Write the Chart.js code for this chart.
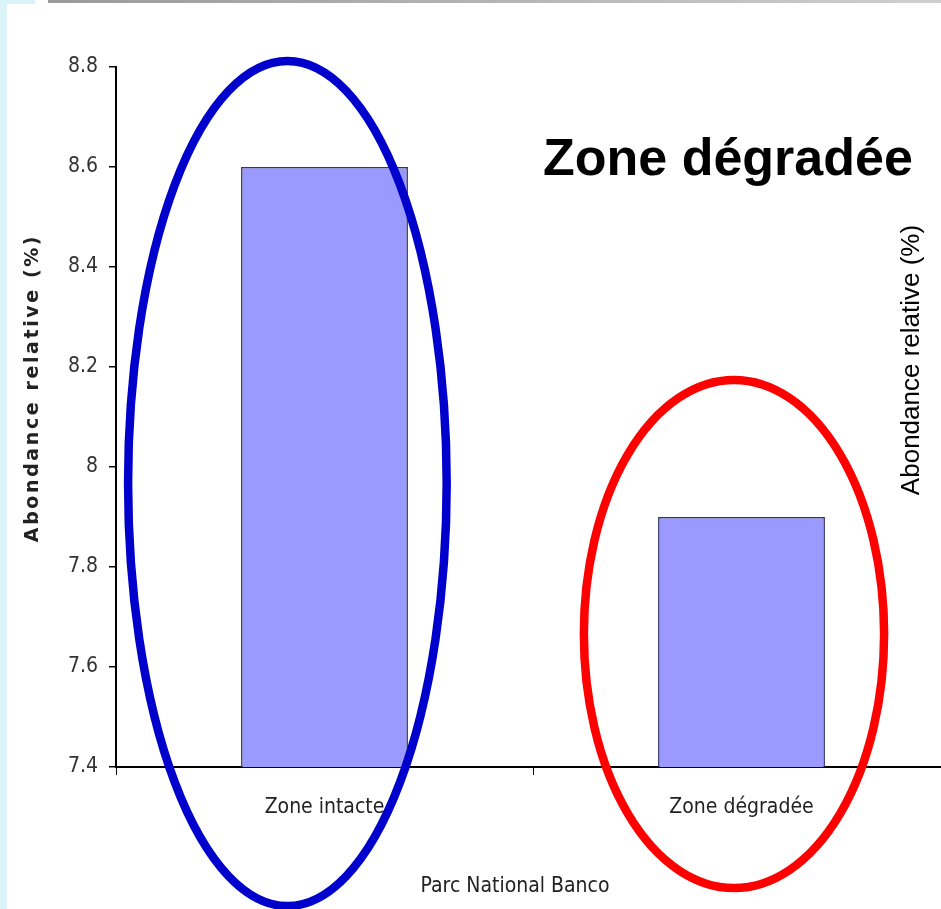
<!DOCTYPE html>
<html><head><meta charset="utf-8">
<script src="https://cdn.jsdelivr.net/npm/chart.js@4"></script>
<style>
html,body{margin:0;padding:0;background:#fff;overflow:hidden;width:941px;height:909px}
#wrap{position:absolute;left:0;top:0;width:960px;height:909px}
#strip{position:absolute;left:0;top:0;width:7px;height:909px;background:#d9f3f8}
#tl{position:absolute;left:0;top:0;width:35px;height:4px;background:#d9f3f8}
#topbar{position:absolute;left:48px;top:0;width:893px;height:3px;background:linear-gradient(to right,#9a9a9a,#cfcfcf)}
</style></head><body>
<div id="wrap"><canvas id="c" width="960" height="909"></canvas></div>
<div id="strip"></div><div id="tl"></div><div id="topbar"></div>
<script>
const categories = ['Zone intacte', 'Zone dégradée'];
const abundance = [8.6, 7.9];
const yTicks = [7.4, 7.6, 7.8, 8, 8.2, 8.4, 8.6, 8.8];
const yTitle = 'Abondance relative (%)';
const xTitle = 'Parc National Banco';
const bigTitle = 'Zone dégradée';
const rightLabel = 'Abondance relative (%)';
// highlight ellipses, in data units (category index / value)
const ellipseCenterCat = [-0.089, 0.982];
const ellipseCenterVal = [7.967, 7.666];
const ellipseHalfCat = [0.382, 0.36];
const ellipseHalfVal = [0.845, 0.508];
const ellipseColors = ['#0000cc', '#ff0000'];

const NARROW = '"Liberation Sans Narrow", "Arial Narrow", "DejaVu Sans Condensed", sans-serif';

const overlay = {
  id: 'overlay',
  afterDraw(chart) {
    const ctx = chart.ctx, xs = chart.scales.x, ys = chart.scales.y, ca = chart.chartArea;
    const p0 = xs.getPixelForValue(0), step = xs.getPixelForValue(1) - p0;
    for (let i = 0; i < ellipseColors.length; i++) {
      const cx = p0 + ellipseCenterCat[i] * step;
      const cy = ys.getPixelForValue(ellipseCenterVal[i]);
      const rx = ellipseHalfCat[i] * step;
      const ry = Math.abs(ys.getPixelForValue(ellipseCenterVal[i] + ellipseHalfVal[i]) - cy);
      ctx.save();
      ctx.beginPath();
      ctx.ellipse(cx, cy, rx, ry, 0, 0, Math.PI * 2);
      ctx.strokeStyle = ellipseColors[i];
      ctx.lineWidth = 8.5;
      ctx.stroke();
      ctx.restore();
    }
    ctx.save();
    ctx.fillStyle = '#000';
    ctx.font = 'bold 52px "Liberation Sans", Arial, sans-serif';
    ctx.textAlign = 'left';
    ctx.textBaseline = 'alphabetic';
    ctx.fillText(bigTitle, 543, 175);
    ctx.restore();

    ctx.save();
    ctx.translate(912, 360);
    ctx.rotate(-Math.PI / 2);
    ctx.font = '26px "Liberation Sans", Arial, sans-serif';
    ctx.fillStyle = '#000';
    ctx.textAlign = 'center';
    ctx.textBaseline = 'middle';
    ctx.fillText(rightLabel, 0, 0);
    ctx.restore();

    ctx.save();
    ctx.translate(ca.left - 83, (ca.top + ca.bottom) / 2 - 29);
    ctx.rotate(-Math.PI / 2);
    ctx.font = 'bold 19px "DejaVu Sans", Verdana, sans-serif';
    ctx.letterSpacing = '2.6px';
    ctx.fillStyle = '#222';
    ctx.textAlign = 'center';
    ctx.textBaseline = 'middle';
    ctx.fillText(yTitle, 0, 0);
    ctx.restore();

    ctx.save();
    ctx.font = '21px ' + NARROW;
    ctx.fillStyle = '#222';
    ctx.textAlign = 'center';
    ctx.textBaseline = 'middle';
    ctx.fillText(xTitle, 515, 887);
    ctx.restore();
  }
};

new Chart(document.getElementById('c'), {
  type: 'bar',
  data: {
    labels: categories,
    datasets: [{
      data: abundance,
      backgroundColor: '#9999ff',
      borderColor: '#333366',
      borderWidth: 1.5,
      borderSkipped: 'bottom',
      barPercentage: 0.4,
      categoryPercentage: 1
    }]
  },
  options: {
    responsive: false,
    animation: false,
    events: [],
    layout: { padding: { top: 67, right: 10, bottom: 0, left: 0 } },
    plugins: { legend: { display: false }, tooltip: { enabled: false } },
    scales: {
      x: {
        offset: true,
        afterFit(s) { s.height = 142; },
        border: { color: '#000', width: 2 },
        grid: { offset: true, drawOnChartArea: false, drawTicks: true, tickLength: 8, color: '#000', lineWidth: 1 },
        ticks: { color: '#222', font: { family: NARROW, size: 21 }, padding: 20, maxRotation: 0 }
      },
      y: {
        min: 7.4, max: 8.8,
        afterFit(s) { s.width = 116; },
        afterBuildTicks(s) { s.ticks = yTicks.map(v => ({ value: v })); },
        border: { color: '#000', width: 2 },
        grid: { drawOnChartArea: false, drawTicks: true, tickLength: 7, color: '#000', lineWidth: 1.5 },
        ticks: {
          color: '#333', font: { family: NARROW, size: 21 }, padding: 11,
          callback: v => (Number.isInteger(v) ? String(v) : v.toFixed(1))
        }
      }
    }
  },
  plugins: [overlay]
});
</script>
</body></html>
